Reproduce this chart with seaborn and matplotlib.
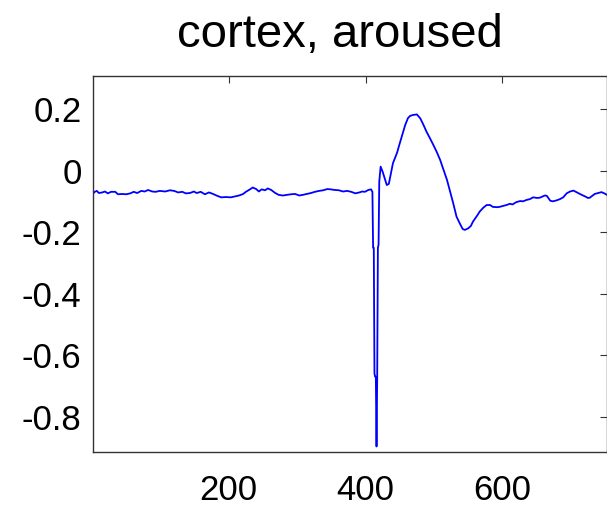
import matplotlib
matplotlib.use("Agg")
import matplotlib.pyplot as plt
import seaborn as sns
import pandas as pd

# ---- data ----
sample_index = [
    1, 4, 7, 10, 15, 19, 23, 28, 34, 38, 44, 50, 56, 61, 66, 72, 77, 82, 88, 93,
    99, 107, 114, 120, 126, 132, 137, 143, 149, 153, 159, 165, 171, 177, 183, 189,
    196, 203, 209, 215, 221, 225, 231, 235, 240, 244, 248, 253, 257, 262, 268, 273,
    279, 285, 291, 297, 303, 308, 314, 320, 326, 332, 338, 344, 349, 355, 361, 367,
    373, 379, 385, 391, 395, 399, 404, 408, 410,
    411, 412, 413, 414, 415, 416, 417, 418, 419,
    420, 422, 425, 431, 434, 440, 446, 450, 455, 458, 462, 465, 469, 475, 480, 484,
    489, 494, 499, 504, 509, 513, 519, 523, 528, 533, 538, 542, 545, 550, 554, 557,
    563, 567, 572, 577, 582, 586, 592, 596, 601, 606, 611, 615, 620, 626, 630, 636,
    640, 645, 651, 655, 659, 662, 665, 670, 674, 679, 684, 689, 694, 699, 704, 709,
    716, 721, 725, 728, 732, 735, 740, 745, 749, 753,
]
signal = [
    -0.075, -0.068, -0.065, -0.072, -0.070, -0.067, -0.073, -0.068, -0.068, -0.076,
    -0.075, -0.076, -0.073, -0.068, -0.072, -0.065, -0.067, -0.062, -0.067, -0.068,
    -0.065, -0.067, -0.063, -0.065, -0.070, -0.068, -0.073, -0.072, -0.067, -0.072,
    -0.068, -0.076, -0.070, -0.075, -0.081, -0.086, -0.085, -0.086, -0.083, -0.080,
    -0.075, -0.068, -0.060, -0.054, -0.059, -0.067, -0.060, -0.063, -0.057, -0.062,
    -0.072, -0.078, -0.080, -0.078, -0.076, -0.075, -0.080, -0.078, -0.075, -0.072,
    -0.068, -0.065, -0.063, -0.059, -0.060, -0.062, -0.063, -0.067, -0.065, -0.068,
    -0.073, -0.070, -0.067, -0.068, -0.062, -0.060, -0.068,
    -0.25, -0.25, -0.66, -0.67, -0.67, -0.897, -0.67, -0.25, -0.24,
    -0.035, 0.014, -0.003, -0.046, -0.042, 0.025, 0.059, 0.090, 0.127, 0.150,
    0.172, 0.179, 0.182, 0.184, 0.171, 0.153, 0.128, 0.107, 0.085, 0.062, 0.036,
    0.010, -0.029, -0.062, -0.104, -0.149, -0.172, -0.189, -0.192, -0.187, -0.179,
    -0.165, -0.146, -0.132, -0.120, -0.111, -0.111, -0.117, -0.118, -0.117, -0.114,
    -0.111, -0.107, -0.109, -0.102, -0.098, -0.099, -0.094, -0.092, -0.086, -0.088,
    -0.087, -0.083, -0.080, -0.081, -0.097, -0.099, -0.096, -0.092, -0.086, -0.073,
    -0.067, -0.064, -0.070, -0.078, -0.083, -0.088, -0.087, -0.080, -0.075, -0.072,
    -0.069, -0.073, -0.078,
]
x_ticks = [200, 400, 600]
y_ticks = [-0.8, -0.6, -0.4, -0.2, 0, 0.2]
y_tick_labels = ["-0.8", "-0.6", "-0.4", "-0.2", "0", "0.2"]
title_text = "cortex, aroused"

df = pd.DataFrame({"sample": sample_index, "value": signal})

sns.set_style("white")
plt.rcParams["font.family"] = ["Liberation Sans", "DejaVu Sans"]

fig = plt.figure(figsize=(6.07, 5.08), dpi=100)
ax = fig.add_axes([92.7 / 607, 56 / 508, 1 - 92.7 / 607, (452 - 75.7) / 508])

sns.lineplot(data=df, x="sample", y="value", ax=ax, color="#0000ff",
             linewidth=1.3, sort=False, estimator=None)

ax.set_xlim(1, 753)
ax.set_ylim(-0.915, 0.31)
ax.set_xticks(x_ticks)
ax.set_xticklabels([str(t) for t in x_ticks])
ax.set_yticks(y_ticks)
ax.set_yticklabels(y_tick_labels)
ax.set_xlabel("")
ax.set_ylabel("")

for s in ax.spines.values():
    s.set_visible(True)
    s.set_color("#333333")
    s.set_linewidth(1.0)

ax.tick_params(axis="both", direction="in", length=5, width=0.8, color="#333333",
               top=True, right=True, labelsize=25, labelcolor="black")
ax.tick_params(axis="x", pad=16)
ax.tick_params(axis="y", pad=8)

fig.text(340 / 607, 1 - 47 / 508, title_text, ha="center", va="baseline",
         fontsize=34, color="black")

fig.savefig("out.png", dpi=100)
